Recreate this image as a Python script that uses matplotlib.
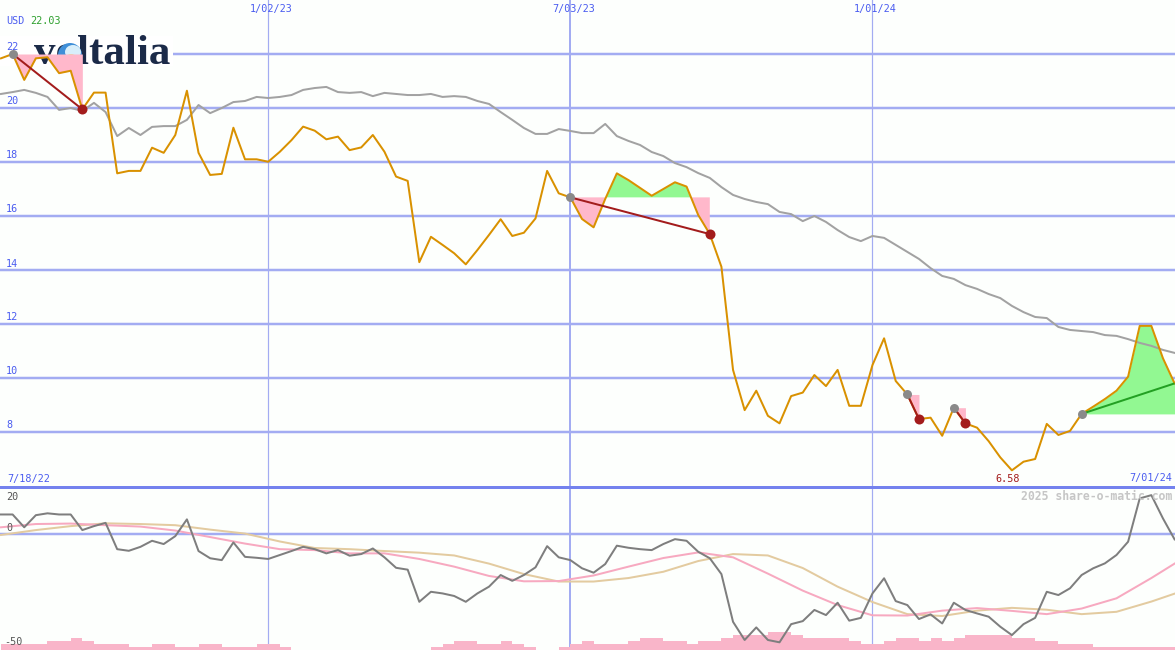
import numpy as np
import pandas as pd
import matplotlib
matplotlib.use('Agg')
import matplotlib.pyplot as plt
import matplotlib.dates as mdates
from matplotlib.patches import Rectangle, Circle, Ellipse

W, H = 1175, 650

# ---------------- data ----------------
dates = pd.date_range('2022-07-25', '2024-07-01', freq='7D')

price = [21.84, 22.00, 21.04, 21.84, 21.88, 21.29, 21.38, 19.95, 20.57, 20.57,
         17.58, 17.67, 17.67, 18.53, 18.34, 19.00, 20.64, 18.34, 17.52, 17.56,
         19.27, 18.10, 18.10, 18.01, 18.38, 18.81, 19.31, 19.16, 18.84, 18.94,
         18.44, 18.54, 19.00, 18.38, 17.46, 17.30, 14.29, 15.23, 14.93, 14.62,
         14.21, 14.74, 15.30, 15.88, 15.26, 15.38, 15.91, 17.67, 16.84, 16.69,
         15.89, 15.58, 16.63, 17.58, 17.33, 17.04, 16.75, 17.00, 17.25, 17.09,
         16.04, 15.33, 14.12, 10.30, 8.81, 9.53, 8.60, 8.32, 9.33, 9.46,
         10.11, 9.70, 10.30, 8.97, 8.97, 10.48, 11.47, 9.89, 9.39, 8.48,
         8.53, 7.86, 8.90, 8.32, 8.16, 7.66, 7.06, 6.58, 6.90, 7.00,
         8.30, 7.89, 8.04, 8.67, 8.94, 9.22, 9.53, 10.05, 11.93, 11.93,
         10.73, 9.80]

moving_avg = [20.52, 20.59, 20.67, 20.56, 20.41, 19.93, 20.00, 19.89, 20.19, 19.85,
              18.96, 19.26, 19.00, 19.30, 19.33, 19.33, 19.56, 20.11, 19.81, 20.00,
              20.22, 20.26, 20.41, 20.37, 20.41, 20.48, 20.67, 20.74, 20.78, 20.59,
              20.56, 20.59, 20.44, 20.56, 20.52, 20.48, 20.48, 20.52, 20.41, 20.44,
              20.41, 20.26, 20.15, 19.85, 19.56, 19.26, 19.04, 19.04, 19.22, 19.15,
              19.07, 19.07, 19.41, 18.96, 18.78, 18.63, 18.37, 18.22, 17.96, 17.81,
              17.59, 17.41, 17.07, 16.78, 16.63, 16.52, 16.44, 16.15, 16.07, 15.81,
              16.00, 15.78, 15.48, 15.22, 15.07, 15.26, 15.19, 14.93, 14.67, 14.41,
              14.07, 13.78, 13.67, 13.44, 13.30, 13.11, 12.96, 12.67, 12.44, 12.26,
              12.22, 11.89, 11.78, 11.74, 11.70, 11.59, 11.56, 11.44, 11.30, 11.19,
              11.04, 10.93]

oscillator = [8.2, 8.2, 2.7, 7.9, 8.7, 8.2, 8.2, 1.5, 3.2, 4.6,
              -6.7, -7.4, -5.7, -3.1, -4.5, -1.1, 6.1, -7.5, -10.6, -11.4,
              -3.8, -10.0, -10.4, -10.9, -9.2, -7.5, -5.7, -6.7, -8.5, -7.1,
              -9.5, -8.8, -6.4, -10.2, -14.7, -15.5, -29.3, -25.0, -25.7, -26.8,
              -29.3, -25.7, -22.8, -17.8, -20.3, -17.8, -14.5, -5.4, -10.2, -11.4,
              -14.9, -16.8, -13.1, -5.2, -6.1, -6.7, -7.1, -4.5, -2.4, -3.1,
              -7.8, -10.6, -17.4, -37.9, -45.7, -40.3, -45.7, -46.7, -38.9, -37.6,
              -32.8, -35.0, -29.7, -37.4, -36.2, -25.7, -19.2, -29.0, -30.7, -36.7,
              -34.7, -38.6, -29.7, -32.8, -34.3, -35.7, -40.0, -43.6, -38.9, -36.2,
              -25.0, -26.4, -23.5, -17.8, -14.9, -12.8, -9.2, -3.5, 15.1, 16.5,
              6.5, -2.5]

smooth_dates = list(dates[::3]) + [dates[-1]]
signal_pink = [2.7, 4.1, 4.3, 3.6, 3.0, 1.3, -1.5, -4.3, -6.7, -7.1, -8.5, -8.5,
               -10.9, -14.2, -18.2, -20.5, -20.4, -18.0, -14.2, -10.5, -8.1, -10.2,
               -17.2, -24.5, -30.7, -35.1, -35.2, -33.1, -32.0, -33.2, -34.6, -32.2,
               -27.8, -19.1, -12.9]
signal_tan = [-0.6, 1.5, 3.2, 4.4, 4.1, 3.6, 1.7, 0.0, -3.4, -6.2, -6.7, -7.5,
              -8.2, -9.4, -12.9, -17.4, -20.6, -20.6, -19.1, -16.4, -11.8, -8.8,
              -9.4, -14.8, -22.8, -29.4, -34.6, -35.4, -33.1, -31.9, -32.7, -34.6,
              -33.6, -29.2, -25.8]

volume_level = [2, 2, 2, 2, 3, 3, 4, 3, 2, 2, 2, 1, 1, 2, 2, 1, 1, 2, 2, 1,
                1, 1, 2, 2, 1, 0, 0, 0, 0, 0, 0, 0, 0, 0, 0, 0, 0, 1, 2, 3,
                3, 2, 2, 3, 2, 1, 0, 0, 1, 2, 3, 2, 2, 2, 3, 4, 4, 3, 3, 2,
                3, 3, 4, 5, 5, 5, 6, 6, 5, 4, 4, 4, 4, 3, 2, 2, 3, 4, 4, 3,
                4, 3, 4, 5, 5, 5, 5, 4, 4, 3, 3, 2, 2, 2, 1, 1, 1, 1, 1, 1,
                1, 1]

trade_entry = [1, 49, 78, 82, 93]
trade_exit = [7, 61, 79, 83, 101]
trade_open = [False, False, False, False, True]

grid_prices = [8, 10, 12, 14, 16, 18, 20, 22]
vgrid_dates = ['2023-01-02', '2023-07-03', '2024-01-01']
vgrid_labels = ['1/02/23', '7/03/23', '1/01/24']
first_label = '7/18/22'
last_label = '7/01/24'
currency = 'USD'
start_value = '22.03'
lower_labels = [(20, '20'), (0, '0'), (-50, '-50')]

# ---------------- styling ----------------
BG = '#fdfffd'
GRID = '#a3acf2'
SEP = '#7482ee'
BLUE_TXT = '#4a5cf0'
ORANGE = '#d99100'
PINK_FILL = '#ffb8cb'
GREEN_FILL = '#92f892'
DARKRED = '#a31c1c'
PX = 0.72  # points per pixel at dpi 100

fig = plt.figure(figsize=(W / 100, H / 100), dpi=100, facecolor=BG)
ax = fig.add_axes([0, 163 / H, 1, 487 / H])
ax2 = fig.add_axes([0, 0, 1, 163 / H])
for a in (ax, ax2):
    a.set_facecolor(BG)
    for s in a.spines.values():
        s.set_visible(False)
    a.set_xticks([])
    a.set_yticks([])

d0 = mdates.date2num(dates[0])
x_left = d0 - 0.6
x_right = mdates.date2num(pd.Timestamp('2024-07-01')) + 0.25
ax.set_xlim(x_left, x_right)
ax2.set_xlim(x_left, x_right)
ax.set_ylim(22 - (487 - 54) / 27, 24.0)
ax2.set_ylim(-50, 20)

xd = mdates.date2num(dates)
pr = np.array(price)

# grid
for g in grid_prices:
    ax.axhline(g, color=GRID, lw=2.5 * PX, zorder=1)
for i, vd in enumerate(vgrid_dates):
    lw = 2 if i == 1 else 1.2
    ax.axvline(mdates.date2num(pd.Timestamp(vd)), color=GRID, lw=lw * PX, zorder=1)
    ax2.axvline(mdates.date2num(pd.Timestamp(vd)), color=GRID, lw=lw * PX, zorder=1)
ax2.axhline(0, color=GRID, lw=2.5 * PX, zorder=1)
ax2.axhline(20, color=SEP, lw=3 * PX, zorder=5, clip_on=False)


def fx(xp):
    return xp / W


def fy(yp):
    return 1 - yp / H


# logo (behind the fills and lines)
ax.add_patch(Rectangle((fx(0), fy(66)), fx(173), 30 / H, transform=fig.transFigure,
                       color='white', lw=0, zorder=1.5))
ax.text(fx(34), fy(64.3), 'voltalia', transform=fig.transFigure,
        family='Liberation Serif', fontweight='bold', fontsize=31,
        color='#1b2a48', ha='left', va='baseline', zorder=1.6)
ax.add_patch(Ellipse((fx(70), fy(55)), 24 / W, 24 / H, transform=fig.transFigure,
                     color='#3f8fd8', lw=0, zorder=1.7))
ax.add_patch(Ellipse((fx(73), fy(52)), 16 / W, 14 / H, transform=fig.transFigure,
                     color='#d8eefa', lw=0, zorder=1.75))
ax.add_patch(Ellipse((fx(71), fy(58)), 14 / W, 7 / H, transform=fig.transFigure,
                     color='#f2c53a', lw=0, zorder=1.78))

# trade fills
for e, x, op in zip(trade_entry, trade_exit, trade_open):
    seg_x = xd[e:x + 1]
    seg_p = pr[e:x + 1]
    lvl = pr[e]
    ax.fill_between(seg_x, seg_p, lvl, where=seg_p <= lvl, interpolate=True,
                    color=PINK_FILL, lw=0, zorder=2)
    ax.fill_between(seg_x, seg_p, lvl, where=seg_p >= lvl, interpolate=True,
                    color=GREEN_FILL, lw=0, zorder=2)

# moving average and price
ax.plot(xd, moving_avg, color='#a2a2a2', lw=2 * PX, zorder=3)
ax.plot(xd, pr, color=ORANGE, lw=2 * PX, zorder=4)

# trade lines and markers
for e, x, op in zip(trade_entry, trade_exit, trade_open):
    col = '#23a023' if op else DARKRED
    ax.plot([xd[e], xd[x]], [pr[e], pr[x]], color=col, lw=2 * PX, zorder=5,
            solid_capstyle='butt')
    ax.plot(xd[e], pr[e], 'o', color='#8a8a8a', ms=9 * PX, mew=0, zorder=6)
    if not op:
        ax.plot(xd[x], pr[x], 'o', color=DARKRED, ms=10 * PX, mew=0, zorder=6)

# lower panel
ax2.bar(xd, np.array(volume_level) * 1.29, width=7, align='edge', bottom=-50,
        color='#f9b5c9', lw=0, zorder=2)
sd = mdates.date2num(pd.DatetimeIndex(smooth_dates))
ax2.plot(sd, signal_tan, color='#e3cba0', lw=2 * PX, zorder=3)
ax2.plot(sd, signal_pink, color='#f7a9c0', lw=2 * PX, zorder=3)
ax2.plot(xd, oscillator, color='#7e7e7e', lw=2 * PX, zorder=4)

# ---------------- texts ----------------
MONO = 'DejaVu Sans Mono'


def ftext(x, y, s, **kw):
    kw.setdefault('family', MONO)
    kw.setdefault('fontsize', 7.3)
    return fig.text(fx(x), fy(y), s, **kw)


def date_px(d):
    return (mdates.date2num(pd.Timestamp(d)) - x_left) / (x_right - x_left) * W


for vd, lab in zip(vgrid_dates, vgrid_labels):
    ftext(date_px(vd) + 3, 9, lab, color=BLUE_TXT, ha='center', va='center')

ftext(6, 21, currency, color=BLUE_TXT, ha='left', va='center')
ftext(30, 21, start_value, color='#2ea02e', ha='left', va='center')

for g in grid_prices:
    yp = 54 + (22 - g) * 27
    ftext(6, yp - 6.5, str(g), color=BLUE_TXT, ha='left', va='center')

ftext(7, 479, first_label, color=BLUE_TXT, ha='left', va='center')
ftext(1172, 478.5, last_label, color=BLUE_TXT, ha='right', va='center')

imin = int(np.argmin(pr))
xmin_px = (xd[imin] - x_left) / (x_right - x_left) * W
ftext(xmin_px - 4, 478.5, f'{pr[imin]:.2f}', color=DARKRED, ha='center', va='center')

ftext(1172, 496, '2025 share-o-matic.com', color='#c6c6c6', ha='right', va='center',
      fontsize=8.3, fontweight='bold')

lower_label_y = {20: 496.5, 0: 528, -50: 642}
for v, lab in lower_labels:
    ftext(4 if v < 0 else 6, lower_label_y[v], lab, color='#555555', ha='left', va='center')

fig.savefig('out.png', dpi=100, facecolor=BG)
